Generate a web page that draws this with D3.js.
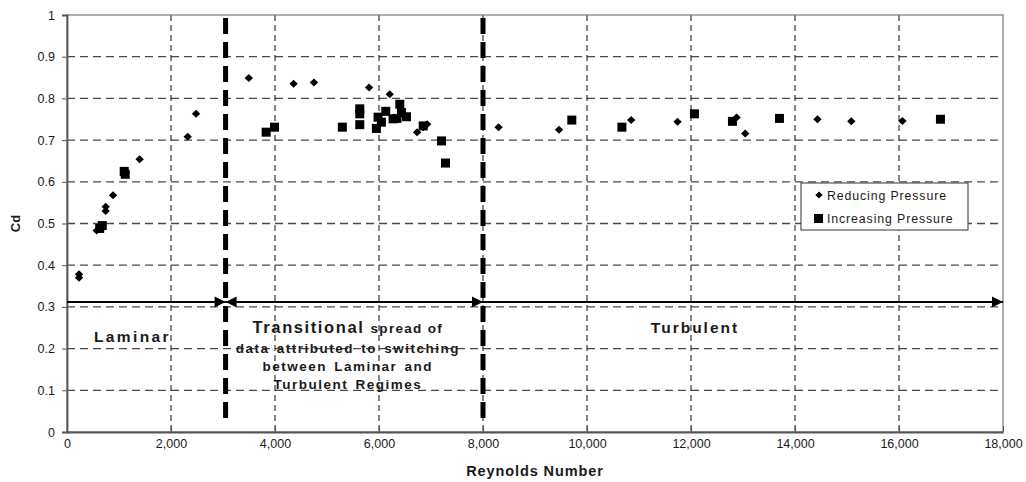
<!DOCTYPE html>
<html>
<head>
<meta charset="utf-8">
<script src="https://cdn.jsdelivr.net/npm/d3@7"></script>
<style>
  body { margin: 0; background: #fff; }
  svg text { font-family: "Liberation Sans", Arial, sans-serif; fill: #1a1a1a; }
  .narrow { font-family: "Liberation Sans Narrow", "Arial Narrow", "Liberation Sans", sans-serif; font-stretch: condensed; }
</style>
</head>
<body>
<svg width="1026" height="482"></svg>
<script>
// Reducing pressure series (diamonds)
var reducingRe = [231, 231, 571, 744, 744, 885, 1397, 2321, 2482, 3496, 4357, 4749, 5809, 6207,
  6733, 6849, 6926, 8300, 9462, 10850, 11741, 12877, 13043, 14432, 15083, 16066];
var reducingCd = [0.378, 0.370, 0.483, 0.540, 0.530, 0.568, 0.654, 0.708, 0.763, 0.849, 0.835, 0.838, 0.826, 0.810,
  0.719, 0.731, 0.738, 0.731, 0.725, 0.748, 0.744, 0.754, 0.716, 0.750, 0.745, 0.746];

// Increasing pressure series (squares)
var increasingRe = [628, 679, 1100, 1120, 3830, 3991, 5295, 5630, 5630, 5630, 5950, 5982, 6046, 6130,
  6271, 6346, 6400, 6432, 6528, 6850, 7202, 7279, 9708, 10671, 12066, 12797, 13701, 16797];
var increasingCd = [0.488, 0.495, 0.625, 0.618, 0.719, 0.731, 0.731, 0.775, 0.763, 0.737, 0.728, 0.755, 0.743, 0.769,
  0.751, 0.752, 0.786, 0.766, 0.756, 0.734, 0.698, 0.645, 0.748, 0.731, 0.763, 0.745, 0.752, 0.750];

var xTicks = [0, 2000, 4000, 6000, 8000, 10000, 12000, 14000, 16000, 18000];
var yTicks = [0, 0.1, 0.2, 0.3, 0.4, 0.5, 0.6, 0.7, 0.8, 0.9, 1];
var regimeBounds = [3050, 8000];
var arrowCd = 0.312;
var legendLabels = ["Reducing Pressure", "Increasing Pressure"];

var svg = d3.select("svg"),
    margin = {top: 15, right: 23, bottom: 50, left: 67},
    width = +svg.attr("width") - margin.left - margin.right,
    height = +svg.attr("height") - margin.top - margin.bottom;

var x = d3.scaleLinear().domain([0, 18000]).range([0, width]);
var y = d3.scaleLinear().domain([0, 1]).range([height, 0]);

var g = svg.append("g").attr("transform", "translate(" + margin.left + "," + margin.top + ")");

var defs = svg.append("defs");
defs.append("marker")
    .attr("id", "head")
    .attr("viewBox", "0 0 10 10")
    .attr("refX", 10).attr("refY", 5)
    .attr("markerWidth", 6.5).attr("markerHeight", 5.5)
    .attr("markerUnits", "strokeWidth")
    .attr("orient", "auto-start-reverse")
  .append("path").attr("d", "M0,0L10,5L0,10z").attr("fill", "#000");

// grid
g.append("g").selectAll("line").data(yTicks.slice(1, -1)).enter().append("line")
    .attr("x1", 0).attr("x2", width)
    .attr("y1", function(d) { return y(d); }).attr("y2", function(d) { return y(d); })
    .attr("stroke", "#4a4a4a").attr("stroke-width", 1.3).attr("stroke-dasharray", "8,5");

g.append("g").selectAll("line").data(xTicks.slice(1, -1)).enter().append("line")
    .attr("y1", 0).attr("y2", height)
    .attr("x1", function(d) { return x(d); }).attr("x2", function(d) { return x(d); })
    .attr("stroke", "#111").attr("stroke-width", 1).attr("stroke-dasharray", "6,4");

// frame
g.append("rect").attr("width", width).attr("height", height)
    .attr("fill", "none").attr("stroke", "#777").attr("stroke-width", 1.2);

// axes
var yAxis = g.append("g").call(d3.axisLeft(y).tickValues(yTicks).tickSize(5).tickPadding(7)
    .tickFormat(function(d) { return d === 0 || d === 1 ? d : d3.format(".1f")(d); }));
yAxis.select(".domain").attr("stroke", "#555").attr("stroke-width", 1.8);
yAxis.selectAll(".tick line").attr("stroke", "#555");
yAxis.selectAll("text").attr("font-size", 12.5).attr("fill", "#222");

var xAxis = g.append("g").attr("transform", "translate(0," + height + ")")
    .call(d3.axisBottom(x).tickValues(xTicks).tickSizeInner(-6).tickSizeOuter(0).tickPadding(7)
      .tickFormat(d3.format(",")));
xAxis.select(".domain").attr("stroke", "#555").attr("stroke-width", 1.8);
xAxis.selectAll(".tick line").attr("stroke", "#555");
xAxis.selectAll("text").attr("class", "narrow").attr("font-size", 12.5).attr("fill", "#222");

svg.append("text").attr("class", "narrow")
    .attr("x", margin.left + x(9000)).attr("y", 476)
    .attr("text-anchor", "middle").attr("font-size", 14.5).attr("font-weight", "bold")
    .attr("letter-spacing", 0.9)
    .text("Reynolds Number");

svg.append("text")
    .attr("transform", "translate(20," + (margin.top + y(0.5)) + ") rotate(-90)")
    .attr("text-anchor", "middle").attr("font-size", 13).attr("font-weight", "bold")
    .text("Cd");

// regime boundaries
g.append("g").selectAll("line").data(regimeBounds).enter().append("line")
    .attr("x1", function(d) { return x(d); }).attr("x2", function(d) { return x(d); })
    .attr("y1", 3).attr("y2", y(0.028))
    .attr("stroke", "#000").attr("stroke-width", 5).attr("stroke-dasharray", "16,8");

// arrows
var arrowSegs = [[0, regimeBounds[0], false], [regimeBounds[0], regimeBounds[1], true], [regimeBounds[1], 18000, false]];
g.append("g").selectAll("line").data(arrowSegs).enter().append("line")
    .attr("x1", function(d) { return x(d[0]); }).attr("x2", function(d) { return x(d[1]); })
    .attr("y1", y(arrowCd)).attr("y2", y(arrowCd))
    .attr("stroke", "#000").attr("stroke-width", 2)
    .attr("marker-end", "url(#head)")
    .attr("marker-start", function(d) { return d[2] ? "url(#head)" : null; });

// points
var diamond = "M0,-4L4.2,0L0,4L-4.2,0Z";
g.append("g").selectAll("path").data(reducingRe).enter().append("path")
    .attr("d", diamond)
    .attr("transform", function(d, i) { return "translate(" + x(d) + "," + y(reducingCd[i]) + ")"; })
    .attr("fill", "#000");

g.append("g").selectAll("rect").data(increasingRe).enter().append("rect")
    .attr("x", function(d) { return x(d) - 4.5; })
    .attr("y", function(d, i) { return y(increasingCd[i]) - 4.5; })
    .attr("width", 9).attr("height", 9)
    .attr("fill", "#000");

// annotations
var ann = g.append("g").attr("font-weight", "bold");
ann.append("text").attr("x", x(1260)).attr("y", y(0.217)).attr("text-anchor", "middle")
    .attr("font-size", 15.5).attr("letter-spacing", 2.4).text("Laminar");
ann.append("text").attr("x", x(12077)).attr("y", y(0.237)).attr("text-anchor", "middle")
    .attr("font-size", 15.5).attr("letter-spacing", 2).text("Turbulent");
var tr = ann.append("text").attr("x", x(5400)).attr("y", y(0.237)).attr("text-anchor", "middle");
tr.append("tspan").attr("font-size", 16.5).attr("letter-spacing", 1.6).text("Transitional ");
tr.append("tspan").attr("font-size", 13.5).attr("letter-spacing", 1.3).text("spread of");
var subLines = ["data attributed to switching", "between Laminar and", "Turbulent Regimes"];
ann.selectAll(".sub").data(subLines).enter().append("text")
    .attr("x", x(5400)).attr("y", function(d, i) { return y(0.19) + i * 18; })
    .attr("text-anchor", "middle").attr("font-size", 13.5).attr("letter-spacing", 1.5)
    .attr("word-spacing", 2)
    .text(function(d) { return d; });

// legend
var lg = svg.append("g").attr("transform", "translate(801,183)");
lg.append("rect").attr("width", 167).attr("height", 47)
    .attr("fill", "#fff").attr("stroke", "#333").attr("stroke-width", 1);
lg.append("path").attr("d", "M0,-3.5L3.7,0L0,3.5L-3.7,0Z").attr("transform", "translate(18,12)").attr("fill", "#000");
lg.append("rect").attr("x", 13).attr("y", 31).attr("width", 9).attr("height", 9).attr("fill", "#000");
lg.selectAll(".lt").data(legendLabels).enter().append("text")
    .attr("x", 26).attr("y", function(d, i) { return 17 + i * 23; })
    .attr("font-size", 12.3).attr("letter-spacing", 0.9)
    .text(function(d) { return d; });
</script>
</body>
</html>
